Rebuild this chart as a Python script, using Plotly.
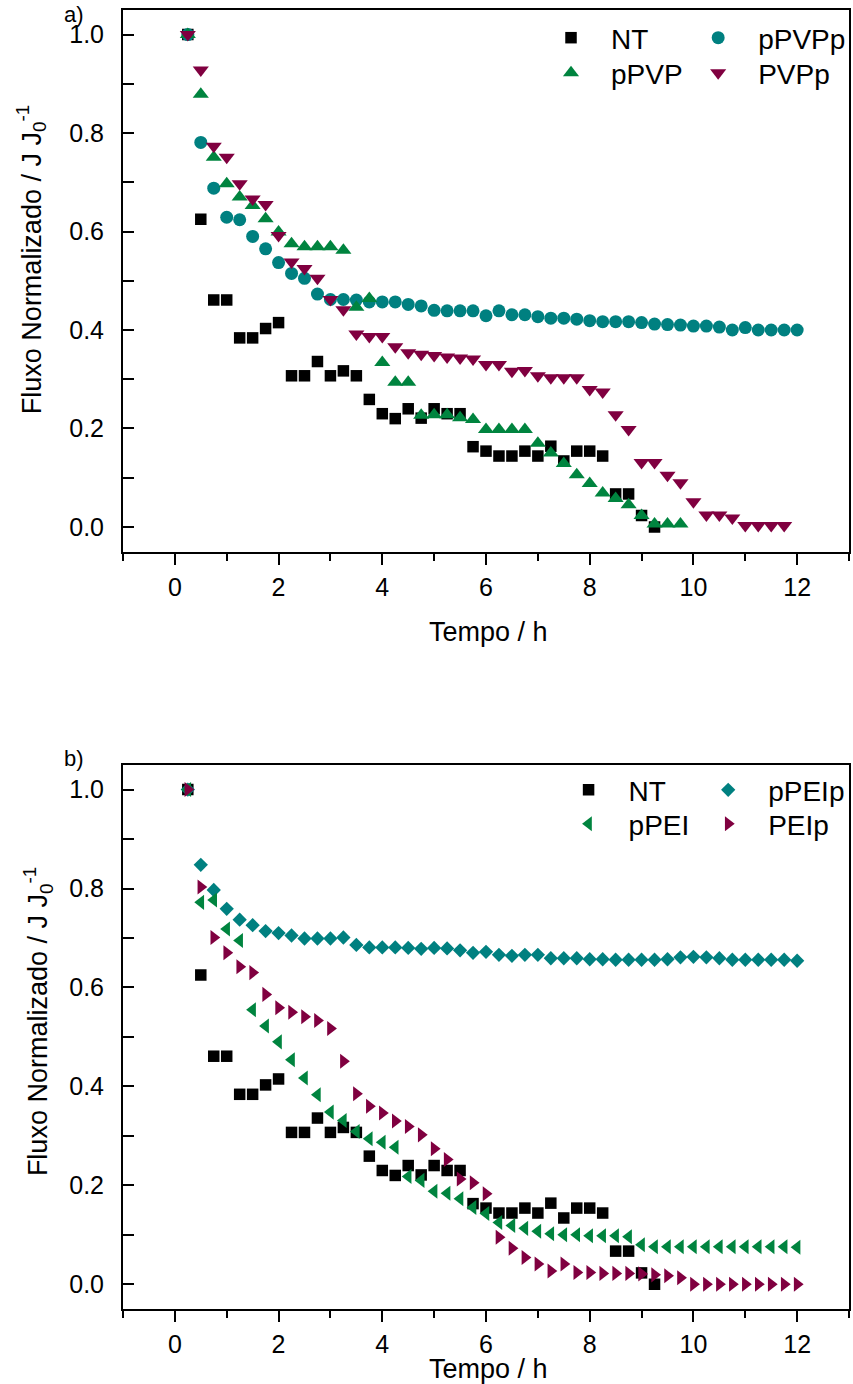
import plotly.graph_objects as go

# Sampling times (h), every 15 min
T = [0.25, 0.5, 0.75, 1.0, 1.25, 1.5, 1.75, 2.0, 2.25, 2.5, 2.75, 3.0,
     3.25, 3.5, 3.75, 4.0, 4.25, 4.5, 4.75, 5.0, 5.25, 5.5, 5.75, 6.0,
     6.25, 6.5, 6.75, 7.0, 7.25, 7.5, 7.75, 8.0, 8.25, 8.5, 8.75, 9.0,
     9.25, 9.5, 9.75, 10.0, 10.25, 10.5, 10.75, 11.0, 11.25, 11.5, 11.75, 12.0]

# Normalised flux J/J0 for each membrane
nt = [1.0, 0.625, 0.461, 0.461, 0.384, 0.384, 0.403, 0.415, 0.307, 0.307,
      0.336, 0.307, 0.317, 0.307, 0.259, 0.230, 0.220, 0.240, 0.221, 0.240,
      0.230, 0.230, 0.163, 0.154, 0.144, 0.144, 0.154, 0.144, 0.164, 0.134,
      0.154, 0.154, 0.144, 0.067, 0.067, 0.023, 0.0]

ppvp = [1.0, 0.879, 0.751, 0.697, 0.670, 0.653, 0.626, 0.599, 0.575, 0.569,
        0.569, 0.569, 0.562, 0.446, 0.464, 0.334, 0.294, 0.294, 0.227, 0.228,
        0.228, 0.222, 0.218, 0.198, 0.198, 0.198, 0.198, 0.170, 0.150, 0.129,
        0.106, 0.088, 0.069, 0.058, 0.045, 0.023, 0.006, 0.006, 0.006]

ppvpp = [1.0, 0.781, 0.688, 0.629, 0.624, 0.590, 0.565, 0.537, 0.515, 0.505,
         0.473, 0.462, 0.462, 0.461, 0.457, 0.457, 0.457, 0.452, 0.449, 0.440,
         0.439, 0.439, 0.439, 0.429, 0.439, 0.431, 0.431, 0.427, 0.424, 0.424,
         0.422, 0.419, 0.417, 0.417, 0.417, 0.415, 0.412, 0.411, 0.410, 0.408,
         0.408, 0.406, 0.400, 0.405, 0.400, 0.400, 0.400, 0.400]

pvpp = [1.0, 0.928, 0.773, 0.751, 0.697, 0.666, 0.655, 0.592, 0.538, 0.525,
        0.505, 0.462, 0.441, 0.392, 0.387, 0.387, 0.366, 0.354, 0.351, 0.348,
        0.345, 0.343, 0.341, 0.330, 0.330, 0.316, 0.318, 0.307, 0.303, 0.303,
        0.303, 0.279, 0.274, 0.228, 0.198, 0.131, 0.131, 0.105, 0.090, 0.051,
        0.024, 0.024, 0.018, 0.003, 0.003, 0.003, 0.003]

ppeip = [1.0, 0.848, 0.797, 0.759, 0.737, 0.726, 0.714, 0.710, 0.705, 0.699,
         0.699, 0.699, 0.701, 0.686, 0.681, 0.681, 0.681, 0.680, 0.678, 0.680,
         0.679, 0.675, 0.670, 0.672, 0.666, 0.664, 0.666, 0.666, 0.659, 0.659,
         0.659, 0.657, 0.657, 0.656, 0.656, 0.656, 0.656, 0.657, 0.661, 0.662,
         0.661, 0.659, 0.656, 0.656, 0.656, 0.656, 0.656, 0.654]

ppei = [1.0, 0.772, 0.777, 0.718, 0.695, 0.555, 0.522, 0.490, 0.454, 0.417,
        0.383, 0.348, 0.331, 0.309, 0.294, 0.287, 0.277, 0.218, 0.210, 0.188,
        0.184, 0.173, 0.155, 0.143, 0.125, 0.119, 0.113, 0.107, 0.102, 0.100,
        0.100, 0.098, 0.098, 0.098, 0.096, 0.080, 0.076, 0.076, 0.076, 0.076,
        0.076, 0.076, 0.076, 0.076, 0.076, 0.076, 0.076, 0.075]

peip = [1.0, 0.803, 0.701, 0.670, 0.642, 0.630, 0.586, 0.559, 0.550, 0.541,
        0.533, 0.517, 0.451, 0.385, 0.360, 0.346, 0.330, 0.319, 0.302, 0.274,
        0.252, 0.213, 0.205, 0.183, 0.095, 0.073, 0.054, 0.041, 0.027, 0.041,
        0.024, 0.024, 0.022, 0.022, 0.022, 0.021, 0.019, 0.017, 0.013, 0.0,
        0.0, 0.0, 0.0, 0.0, 0.0, 0.0, 0.0, 0.0]

BLACK = "#000000"
GREEN = "#00843F"
TEAL = "#008080"
WINE = "#800040"
FONT = "Arial, Liberation Sans, sans-serif"


def series(y, name, symbol, color, size, xa, ya, legend):
    return go.Scatter(
        x=T[:len(y)], y=y, name=name, mode="markers",
        marker=dict(symbol=symbol, color=color, size=size, line=dict(width=0)),
        xaxis=xa, yaxis=ya, legend=legend,
    )


fig = go.Figure()

# (a) PVP-modified membranes
fig.add_trace(series(nt, "NT", "square", BLACK, 11.5, "x", "y", "legend"))
fig.add_trace(series(ppvpp, "pPVPp", "circle", TEAL, 13, "x", "y", "legend3"))
fig.add_trace(series(ppvp, "pPVP", "triangle-up", GREEN, 14, "x", "y", "legend2"))
fig.add_trace(series(pvpp, "PVPp", "triangle-down", WINE, 14, "x", "y", "legend4"))

# (b) PEI-modified membranes
fig.add_trace(series(nt, "NT", "square", BLACK, 11.5, "x2", "y2", "legend5"))
fig.add_trace(series(ppeip, "pPEIp", "diamond", TEAL, 11, "x2", "y2", "legend7"))
fig.add_trace(series(ppei, "pPEI", "triangle-left", GREEN, 13, "x2", "y2", "legend6"))
fig.add_trace(series(peip, "PEIp", "triangle-right", WINE, 13, "x2", "y2", "legend8"))

xax = dict(
    range=[-1, 13], tick0=0, dtick=2, ticks="outside", ticklen=11, tickwidth=2,
    tickcolor=BLACK, minor=dict(dtick=1, ticks="outside", ticklen=7, tickwidth=2, tickcolor=BLACK),
    showline=True, linewidth=2, linecolor=BLACK, mirror=True,
    showgrid=False, zeroline=False, tickfont=dict(family=FONT, size=25, color=BLACK),
    ticklabelstandoff=1,
)
yax = dict(
    range=[-0.05, 1.05], tick0=0, dtick=0.2, tickformat=".1f", ticks="inside",
    ticklen=11, tickwidth=2, tickcolor=BLACK,
    minor=dict(dtick=0.1, ticks="inside", ticklen=11, tickwidth=2, tickcolor=BLACK),
    showline=True, linewidth=2, linecolor=BLACK, mirror=True,
    showgrid=False, zeroline=False, tickfont=dict(family=FONT, size=25, color=BLACK),
    ticklabelstandoff=12,
)

legend_style = dict(
    font=dict(family=FONT, size=28, color=BLACK), bgcolor="rgba(0,0,0,0)",
    xanchor="left", yanchor="top", orientation="v", itemwidth=70,
)

# one legend box per entry so the 2x2 key can be placed freely
legend_pos = {
    "legend": (0.5620, 0.9977), "legend2": (0.5620, 0.9707),
    "legend3": (0.7647, 0.9977), "legend4": (0.7647, 0.9707),
    "legend5": (0.5862, 0.4187), "legend6": (0.5862, 0.3925),
    "legend7": (0.7785, 0.4187), "legend8": (0.7785, 0.3925),
}
legends = {k: dict(legend_style, x=v[0], y=v[1]) for k, v in legend_pos.items()}

fig.update_layout(
    width=853, height=1384,
    margin=dict(l=123, r=2, t=10, b=75),
    paper_bgcolor="white", plot_bgcolor="white",
    font=dict(family=FONT, color=BLACK),
    xaxis=dict(xax, domain=[0, 1], anchor="y"),
    yaxis=dict(yax, domain=[0.5831, 1], anchor="x"),
    xaxis2=dict(xax, domain=[0, 1], anchor="y2"),
    yaxis2=dict(yax, domain=[0, 0.4189], anchor="x2"),
    showlegend=True,
    **legends,
)

ytitle = "Fluxo Normalizado / J J<sub>0</sub><sup>-1</sup>"
annotations = [
    dict(text="Tempo / h", x=0.503, y=0.5213, xref="paper", yref="paper",
         xanchor="center", yanchor="middle", showarrow=False,
         font=dict(family=FONT, size=27, color=BLACK)),
    dict(text="Tempo / h", x=0.503, y=-0.0460, xref="paper", yref="paper",
         xanchor="center", yanchor="middle", showarrow=False,
         font=dict(family=FONT, size=27, color=BLACK)),
    dict(text=ytitle, x=-0.1264, y=0.8076, xref="paper", yref="paper", textangle=-90,
         xanchor="center", yanchor="middle", showarrow=False,
         font=dict(family=FONT, size=27, color=BLACK)),
    dict(text=ytitle, x=-0.118, y=0.2211, xref="paper", yref="paper", textangle=-90,
         xanchor="center", yanchor="middle", showarrow=False,
         font=dict(family=FONT, size=27, color=BLACK)),
    dict(text="a)", x=-0.0838, y=0.9969, xref="paper", yref="paper",
         xanchor="left", yanchor="middle", showarrow=False,
         font=dict(family=FONT, size=22, color=BLACK)),
    dict(text="b)", x=-0.0838, y=0.4240, xref="paper", yref="paper",
         xanchor="left", yanchor="middle", showarrow=False,
         font=dict(family=FONT, size=22, color=BLACK)),
]
fig.update_layout(annotations=annotations)

fig.write_html("out.html")
